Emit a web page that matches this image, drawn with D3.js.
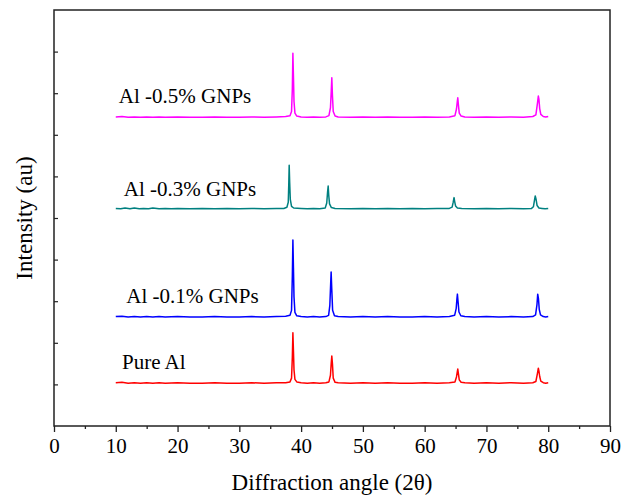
<!DOCTYPE html>
<html>
<head>
<meta charset="utf-8">
<script src="https://cdn.jsdelivr.net/npm/d3@7"></script>
<style>
  body { margin: 0; background: #fff; }
  text { font-family: "Liberation Serif", "Times New Roman", serif; fill: #000; }
</style>
</head>
<body>
<script>
// Dimensions
const width = 633;
const height = 495;
const margin = { top: 10, right: 23, bottom: 69, left: 54 };

// Diffraction patterns [angle, intensity]
const pureAl = [
  [10, 10.4], [11, 10.5], [12, 10.3], [13, 10.4], [14, 10.3], [15, 10.4], [16, 10.3], [17, 10.4],
  [18, 10.3], [20, 10.4], [22, 10.3], [24, 10.3], [26, 10.4], [28, 10.3], [30, 10.3], [32, 10.4],
  [34, 10.3], [36, 10.4], [37.5, 10.4], [38.2, 10.6], [38.45, 11.5], [38.58, 16.5], [38.67, 22.4],
  [38.76, 18], [38.85, 13.5], [39.0, 11.2], [39.3, 10.6], [40, 10.4], [41, 10.3], [42, 10.4],
  [43, 10.3], [44, 10.4], [44.5, 10.6], [44.75, 12.2], [44.88, 15.2], [44.97, 16.8], [45.07, 15],
  [45.2, 11.5], [45.5, 10.5], [46, 10.4], [48, 10.3], [50, 10.4], [52, 10.3], [54, 10.4], [56, 10.3],
  [58, 10.3], [60, 10.4], [62, 10.3], [64, 10.4], [64.9, 10.6], [65.15, 11.8], [65.28, 13], [65.36, 13.7],
  [65.46, 12.6], [65.6, 11.1], [65.9, 10.5], [66.5, 10.4], [68, 10.3], [70, 10.4], [72, 10.3],
  [74, 10.4], [76, 10.3], [77.5, 10.4], [78.0, 10.7], [78.25, 12.6], [78.4, 13.9], [78.5, 13.2],
  [78.62, 11.9], [78.8, 10.8], [79.2, 10.4], [79.6, 10.3], [80, 10.4]
];

const al01 = [
  [10, 26.3], [11, 26.4], [12, 26.2], [13, 26.3], [14, 26.2], [15, 26.3], [16, 26.2], [17, 26.3],
  [18, 26.2], [20, 26.3], [22, 26.2], [24, 26.2], [26, 26.3], [28, 26.2], [30, 26.2], [32, 26.3],
  [34, 26.2], [36, 26.3], [37.5, 26.4], [38.2, 26.6], [38.45, 27.8], [38.58, 36], [38.67, 44.7],
  [38.76, 38], [38.85, 31], [39.0, 27.3], [39.3, 26.5], [40, 26.3], [41, 26.2], [42, 26.3],
  [43, 26.2], [44, 26.3], [44.45, 26.6], [44.65, 29], [44.78, 34], [44.86, 37.0], [44.96, 33],
  [45.1, 27.8], [45.4, 26.5], [46, 26.3], [48, 26.2], [50, 26.3], [52, 26.2], [54, 26.3], [56, 26.2],
  [58, 26.2], [60, 26.3], [62, 26.2], [64, 26.3], [64.85, 26.6], [65.1, 28.2], [65.22, 30.5], [65.3, 31.7],
  [65.4, 30], [65.55, 27.4], [65.85, 26.5], [66.5, 26.3], [68, 26.2], [70, 26.3], [72, 26.2],
  [74, 26.3], [76, 26.2], [77.5, 26.3], [77.95, 26.7], [78.18, 29.2], [78.3, 31.7], [78.42, 30.6],
  [78.55, 28], [78.75, 26.7], [79.2, 26.3], [79.6, 26.2], [80, 26.3]
];

const al03 = [
  [10, 52.3], [10.8, 52.2], [11.5, 52.4], [12.3, 52.2], [13, 52.4], [13.8, 52.2], [14.5, 52.3],
  [15.3, 52.2], [16, 52.4], [17, 52.2], [18, 52.3], [19, 52.2], [20, 52.3], [22, 52.2], [24, 52.3],
  [26, 52.2], [28, 52.3], [30, 52.2], [32, 52.3], [34, 52.2], [36, 52.3], [37.2, 52.3], [37.7, 52.6],
  [37.92, 53.8], [38.0, 58], [38.07, 62.7], [38.15, 58.5], [38.25, 54.5], [38.45, 52.8], [38.8, 52.4],
  [40, 52.3], [41, 52.2], [42, 52.3], [43, 52.2], [43.9, 52.4], [44.15, 53.6], [44.28, 56.2], [44.38, 57.7],
  [44.47, 55.5], [44.6, 53.4], [44.9, 52.5], [45.5, 52.3], [48, 52.2], [50, 52.3], [52, 52.2],
  [54, 52.3], [56, 52.2], [58, 52.3], [60, 52.2], [62, 52.3], [64, 52.3], [64.45, 52.6], [64.62, 53.8],
  [64.7, 54.5], [64.76, 54.9], [64.85, 54.0], [65.0, 52.9], [65.3, 52.4], [66, 52.3], [68, 52.2],
  [70, 52.3], [72, 52.2], [74, 52.3], [76, 52.2], [77.3, 52.3], [77.6, 52.7], [77.78, 54.3],
  [77.9, 55.3], [78.02, 54.6], [78.2, 53.0], [78.5, 52.4], [79, 52.3], [79.5, 52.2], [80, 52.3]
];

const al05 = [
  [10, 74.3], [11, 74.4], [12, 74.2], [13, 74.3], [14, 74.2], [15, 74.3], [16, 74.2], [17, 74.3],
  [18, 74.2], [20, 74.3], [22, 74.2], [24, 74.2], [26, 74.3], [28, 74.2], [30, 74.2], [32, 74.3],
  [34, 74.2], [36, 74.3], [37.5, 74.4], [38.2, 74.6], [38.45, 75.6], [38.58, 81], [38.67, 89.6],
  [38.76, 84], [38.85, 78], [39.0, 75.2], [39.3, 74.5], [40, 74.3], [41, 74.2], [42, 74.3],
  [43, 74.2], [44, 74.3], [44.5, 74.6], [44.75, 76.5], [44.88, 80.5], [44.97, 83.7], [45.07, 79.5],
  [45.2, 75.6], [45.5, 74.5], [46, 74.3], [48, 74.2], [50, 74.3], [52, 74.2], [54, 74.3], [56, 74.2],
  [58, 74.2], [60, 74.3], [62, 74.2], [64, 74.3], [64.9, 74.6], [65.15, 76.2], [65.28, 78], [65.36, 78.9],
  [65.46, 77.2], [65.6, 75.2], [65.9, 74.5], [66.5, 74.3], [68, 74.2], [70, 74.3], [72, 74.2],
  [74, 74.3], [76, 74.2], [77.5, 74.4], [78.0, 74.8], [78.25, 77.5], [78.4, 79.3], [78.5, 78.5],
  [78.62, 76.3], [78.8, 74.9], [79.2, 74.4], [79.6, 74.3], [80, 74.4]
];

const seriesNames = ["Pure Al", "Al -0.1% GNPs", "Al -0.3% GNPs", "Al -0.5% GNPs"];
const seriesData = [pureAl, al01, al03, al05];
const seriesColors = ["#ff0000", "#0000ff", "#008080", "#ff00ff"];
// label anchor in data units [angle, intensity]
const labelPos = [[11.0, 13.8], [11.7, 29.5], [11.3, 55.2], [10.5, 77.6]];

const xTicks = d3.range(0, 91, 10);
const xMinorTicks = d3.range(5, 90, 10);
const yTicks = d3.range(10, 100, 10);

const svg = d3.select("body").append("svg")
  .attr("width", width)
  .attr("height", height);

const x = d3.scaleLinear().domain([0, 90]).range([margin.left, width - margin.right]);
const y = d3.scaleLinear().domain([0, 100]).range([height - margin.bottom, margin.top]);

// frame
svg.append("rect")
  .attr("x", x(0)).attr("y", y(100))
  .attr("width", x(90) - x(0)).attr("height", y(0) - y(100))
  .attr("fill", "none").attr("stroke", "#222").attr("stroke-width", 1.5);

// bottom axis
const xAxis = svg.append("g")
  .attr("transform", `translate(0,${y(0)})`)
  .call(d3.axisBottom(x).tickValues(xTicks).tickSize(6).tickPadding(6).tickFormat(d3.format("d")));
xAxis.select(".domain").remove();
xAxis.selectAll(".tick line").attr("stroke", "#222").attr("stroke-width", 1.3);
xAxis.selectAll(".tick text")
  .attr("font-size", 21).attr("font-family", "Liberation Serif").attr("fill", "#000");

svg.append("g")
  .attr("transform", `translate(0,${y(0)})`)
  .call(d3.axisBottom(x).tickValues(xMinorTicks).tickSize(3).tickFormat(""))
  .call(g => g.select(".domain").remove())
  .selectAll(".tick line").attr("stroke", "#222").attr("stroke-width", 1.3);

// left axis (ticks inside, no labels)
svg.append("g")
  .attr("transform", `translate(${x(0)},0)`)
  .call(d3.axisLeft(y).tickValues(yTicks).tickSize(-4).tickFormat(""))
  .call(g => g.select(".domain").remove())
  .selectAll(".tick line").attr("stroke", "#222").attr("stroke-width", 1.2);

// lines
const line = d3.line().x(d => x(d[0])).y(d => y(d[1]));
svg.append("g").selectAll("path")
  .data(seriesData)
  .join("path")
  .attr("d", line)
  .attr("fill", "none")
  .attr("stroke", (d, i) => seriesColors[i])
  .attr("stroke-width", 1.5)
  .attr("stroke-linejoin", "round");

// series labels
svg.append("g").selectAll("text")
  .data(seriesNames)
  .join("text")
  .attr("x", (d, i) => x(labelPos[i][0]))
  .attr("y", (d, i) => y(labelPos[i][1]))
  .attr("font-size", 21)
  .text(d => d);

// axis titles
svg.append("text")
  .attr("x", (x(0) + x(90)) / 2)
  .attr("y", 490)
  .attr("text-anchor", "middle")
  .attr("font-size", 23)
  .text("Diffraction angle (2θ)");

svg.append("text")
  .attr("transform", `translate(32,${(y(0) + y(100)) / 2}) rotate(-90)`)
  .attr("text-anchor", "middle")
  .attr("font-size", 23)
  .text("Intensity (au)");
</script>
</body>
</html>
